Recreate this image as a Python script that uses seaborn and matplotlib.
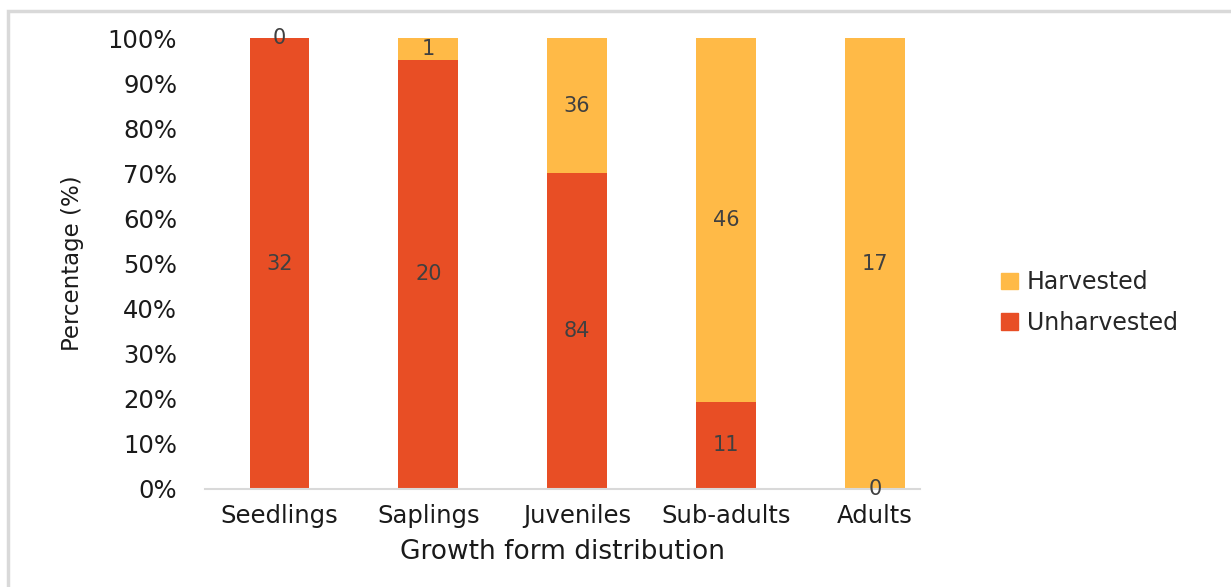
import numpy as np
import pandas as pd
import matplotlib.pyplot as plt
import seaborn as sns
from matplotlib.patches import Rectangle, Patch

# Dados
estagios = ['Seedlings', 'Saplings', 'Juveniles', 'Sub-adults', 'Adults']
unharvested = [32, 20, 84, 11, 0]
harvested = [0, 1, 36, 46, 17]

cor_unh = '#E84E25'
cor_har = '#FFBA47'

# Preparação Dados
total = np.array(unharvested) + np.array(harvested)
pct_unh = np.array(unharvested) / total * 100
pct_total = total / total * 100
df = pd.DataFrame({'estagio': estagios, 'unh': pct_unh, 'tot': pct_total})

# Construção Gráfico
sns.set_style('white')
plt.rcParams['font.family'] = ['DejaVu Sans']

fig = plt.figure(figsize=(12.31, 5.87), dpi=100)
ax = fig.add_axes([0.1665, 0.167, 0.5805, 0.768])

sns.barplot(data=df, x='estagio', y='tot', color=cor_har, width=0.4,
            saturation=1, ax=ax, linewidth=0)
sns.barplot(data=df, x='estagio', y='unh', color=cor_unh, width=0.4,
            saturation=1, ax=ax, linewidth=0)

# rótulos (contagens) no centro de cada segmento
for i in range(len(estagios)):
    ax.text(i, pct_unh[i] / 2, str(unharvested[i]), ha='center', va='center',
            fontsize=15, color='#404040')
    ax.text(i, (pct_unh[i] + 100) / 2, str(harvested[i]), ha='center', va='center',
            fontsize=15, color='#404040')

ax.set_ylim(0, 100)
ax.set_xlim(-0.5, 4.3)
ax.set_yticks(np.arange(0, 101, 10))
ax.set_yticklabels([f'{v}%' for v in range(0, 101, 10)])
ax.tick_params(axis='both', length=0, labelsize=17.5, colors='#1a1a1a')
ax.tick_params(axis='y', pad=20)
ax.tick_params(axis='x', pad=11)
ax.set_xlabel('Growth form distribution', fontsize=19, color='#1a1a1a', labelpad=8)
ax.set_ylabel('Percentage (%)', fontsize=16.5, color='#1a1a1a', labelpad=17)

for s in ['top', 'right', 'left']:
    ax.spines[s].set_visible(False)
ax.spines['bottom'].set_color('#D9D9D9')
ax.spines['bottom'].set_linewidth(1.5)

handles = [Patch(color=cor_har, label='Harvested'),
           Patch(color=cor_unh, label='Unharvested')]
fig.legend(handles=handles, loc='center left', bbox_to_anchor=(0.796, 0.485),
           frameon=False, fontsize=17, handlelength=0.7, handleheight=0.7,
           handletextpad=0.4, labelspacing=0.7)

# moldura do gráfico
fig.patches.append(Rectangle((8 / 1231, -0.02), 1.05, 0.02 + 1 - 11 / 587,
                             transform=fig.transFigure, fill=False,
                             edgecolor='#D9D9D9', linewidth=2.5))

plt.savefig('out.png', dpi=100)
